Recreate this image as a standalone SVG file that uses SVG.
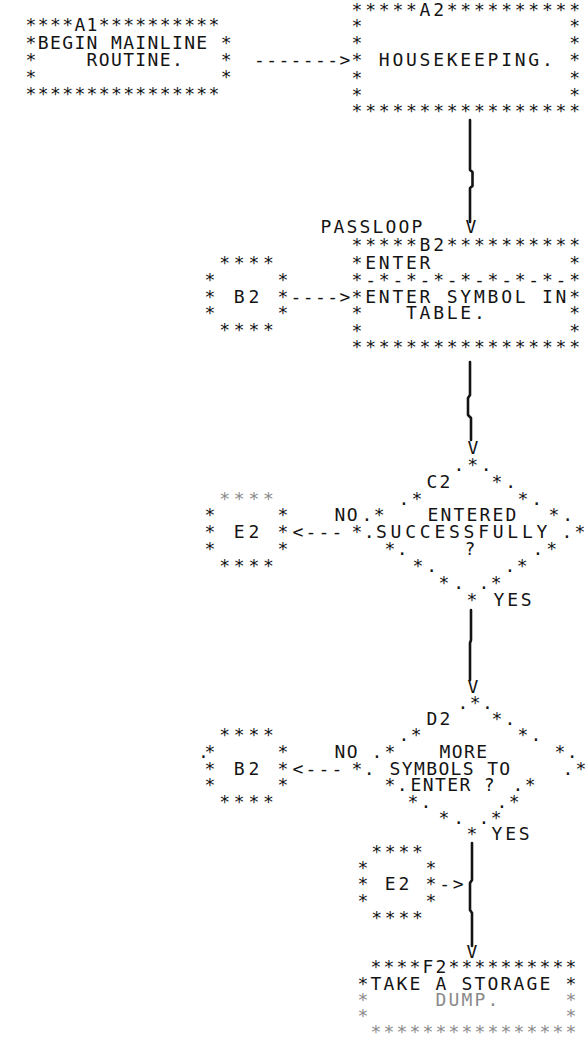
<svg xmlns="http://www.w3.org/2000/svg" width="587" height="1041" viewBox="0 0 587 1041" xml:space="preserve">
<style>
text{font-family:"DejaVu Sans Mono","Liberation Mono",monospace;font-size:18px;fill:#141414;white-space:pre}
.a{letter-spacing:1.36px}
.b{letter-spacing:2.76px}
.c{letter-spacing:3.76px}
.d{letter-spacing:2.16px}
.n{letter-spacing:0}
.faint{fill:#8a8a8a}
.ln{fill:none;stroke:#141414;stroke-width:2.6;stroke-linejoin:round;stroke-linecap:round}
</style>
<rect width="587" height="1041" fill="#ffffff"/>

<g id="A1">
<text class="a"><tspan x="25.6" y="31">****A1**********</tspan><tspan x="25.6" y="49">*BEGIN MAINLINE *</tspan><tspan x="25.6" y="66">*    ROUTINE.   *</tspan><tspan x="25.6" y="83">*               *</tspan><tspan x="25.6" y="100">****************</tspan></text>
</g>

<g id="A2">
<text class="b"><tspan x="351.6" y="16">*****A2**********</tspan><tspan x="351.6" y="32">*               *</tspan><tspan x="351.6" y="49">*               *</tspan><tspan x="351.6" y="66">* HOUSEKEEPING. *</tspan><tspan x="351.6" y="84">*               *</tspan><tspan x="351.6" y="101">*               *</tspan><tspan x="351.6" y="117">*****************</tspan></text>
</g>

<g id="B2">
<text class="d" x="320.6" y="233">PASSLOOP</text>
<text class="b"><tspan x="351.6" y="251">*****B2**********</tspan><tspan x="351.6" y="269">*ENTER          *</tspan><tspan x="351.6" y="286">*-*-*-*-*-*-*-*-*</tspan><tspan x="351.6" y="303">*ENTER SYMBOL IN*</tspan><tspan x="351.6" y="319">*   TABLE.      *</tspan><tspan x="351.6" y="337">*               *</tspan><tspan x="351.6" y="353">*****************</tspan></text>
</g>

<g id="B2-connector-top">
<text class="c"><tspan x="204.6" y="269"> ****</tspan><tspan x="204.6" y="286">*    *</tspan><tspan x="204.6" y="303">* B2 *</tspan><tspan x="204.6" y="319">*    *</tspan><tspan x="204.6" y="336"> ****</tspan></text>
</g>

<g id="C2">
<text><tspan class="b" x="453.6" y="471">.*.</tspan><tspan class="d" x="426.6" y="488">C2</tspan><tspan class="b" x="491.6" y="488">*.</tspan><tspan class="d" x="398.6" y="505">.*</tspan><tspan class="b" x="517.6" y="505">*.</tspan><tspan class="a" x="361.6" y="521">.*</tspan><tspan class="d" x="427.6" y="521">ENTERED</tspan><tspan class="b" x="548.6" y="521">*.</tspan><tspan class="a" x="351.6" y="538">*.</tspan><tspan class="c" x="376" y="538">SUCCESSFULLY</tspan><tspan class="d" x="561.6" y="538">.*</tspan><tspan class="a" x="384.6" y="555">*.</tspan><tspan class="n" x="464.6" y="555">?</tspan><tspan class="b" x="532.6" y="555">.*</tspan><tspan class="b" x="412.6" y="572">*.</tspan><tspan class="a" x="504.6" y="572">.*</tspan><tspan class="c" x="438.6" y="589">*.</tspan><tspan class="a" x="478.6" y="589">.*</tspan><tspan class="n" x="466.6" y="606">*</tspan></text>
</g>

<g id="E2-connector-left">
<text class="c"><tspan class="faint" x="204.6" y="505"> ****</tspan><tspan x="204.6" y="521">*    *</tspan><tspan x="204.6" y="538">* E2 *</tspan><tspan x="204.6" y="555">*    *</tspan><tspan x="204.6" y="572"> ****</tspan></text>
</g>

<g id="D2">
<text><tspan class="a" x="457.6" y="709">.*.</tspan><tspan class="d" x="426.6" y="725">D2</tspan><tspan class="d" x="491.6" y="725">*.</tspan><tspan class="a" x="398.6" y="741">.*</tspan><tspan class="d" x="517.6" y="741">*.</tspan><tspan class="d" x="371.6" y="758">.*</tspan><tspan class="a" x="439.6" y="758">MORE</tspan><tspan class="a" x="554.6" y="758">*.</tspan><tspan class="a" x="351.6" y="775">*.</tspan><tspan class="a" x="389.6" y="775">SYMBOLS TO</tspan><tspan class="d" x="562.6" y="775">.*</tspan><tspan class="a" x="384.6" y="791">*.</tspan><tspan class="a" x="410.6" y="791">ENTER ?</tspan><tspan class="a" x="512.6" y="791">.*</tspan><tspan class="d" x="407.6" y="808">*.</tspan><tspan class="a" x="496.6" y="808">.*</tspan><tspan class="c" x="438.6" y="824">*.</tspan><tspan class="a" x="478.6" y="824">.*</tspan><tspan class="n" x="466.6" y="840">*</tspan></text>
</g>

<g id="B2-connector-left">
<text class="c"><tspan x="204.6" y="741"> ****</tspan><tspan x="198" y="758">.</tspan><tspan x="204.6" y="758">*    *</tspan><tspan x="204.6" y="775">* B2 *</tspan><tspan x="204.6" y="791">*    *</tspan><tspan x="204.6" y="808"> ****</tspan></text>
</g>

<g id="E2-connector-bottom">
<text class="b"><tspan x="357.6" y="858"> ****</tspan><tspan x="357.6" y="874">*    *</tspan><tspan x="357.6" y="890">* E2 *</tspan><tspan x="357.6" y="907">*    *</tspan><tspan x="357.6" y="924"> ****</tspan></text>
</g>

<g id="F2">
<text class="d"><tspan x="357.6" y="973"> ****F2**********</tspan><tspan x="357.6" y="990">*TAKE A STORAGE *</tspan><tspan class="faint" x="357.6" y="1006">*     DUMP.     *</tspan><tspan class="faint" x="357.6" y="1022">*               *</tspan><tspan class="faint" x="357.6" y="1038"> ****************</tspan></text>
</g>

<g id="connectors">
<text class="a" x="254" y="66">-------&gt;</text>
<path class="ln" d="M470,120 L470,170 L472.5,172 L472.5,186 L470,188 L470,222"/>
<text x="465.6" y="233">V</text>
<text class="a" x="290.6" y="303">----&gt;</text>
<path class="ln" d="M470,362 L470,395 L468,398 L468,415 L471,418 L471,440"/>
<text x="467.6" y="454">V</text>
<text class="a" x="334.6" y="521">NO</text>
<text class="d" x="292.6" y="538">&lt;---</text>
<text class="b" x="493.6" y="606">YES</text>
<path class="ln" d="M471,610 L471,640 L470,643 L470,680"/>
<text x="467.6" y="693">V</text>
<text class="a" x="334.6" y="758">NO</text>
<text class="d" x="292.6" y="775">&lt;---</text>
<text class="b" x="491.6" y="840">YES</text>
<text class="b" x="439.2" y="890">-&gt;</text>
<path class="ln" d="M472,843 L472,880 L470,883 L470,910 L472,913 L472,946"/>
<text x="466.6" y="958">V</text>
</g>
</svg>
